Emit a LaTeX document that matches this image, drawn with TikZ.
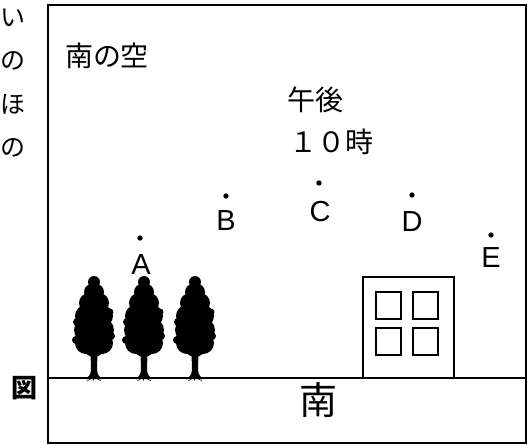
\documentclass[tikz,border=0pt]{standalone}
\usepackage{fontspec}
\setsansfont{Liberation Sans}
\newfontfamily\jpfont{Noto Sans CJK JP}
\usepackage{tikz}
\usetikzlibrary{positioning}

\tikzset{
    skydot/.style = {circle, fill = black, inner sep = 0pt, minimum size = 5.4pt},
    skyname/.style = {font = \sffamily\fontsize{29}{31}\selectfont, inner sep = 0pt},
    jptext/.style = {font = \jpfont\fontsize{28}{30}\selectfont, inner sep = 0pt},
    frameline/.style = {line width = 2pt},
    houseline/.style = {line width = 1.4pt}
}

% one conifer, base of the trunk at (#1, 378)
\newcommand{\drawtree}[1]{%
    \begin{scope}[shift = {(#1, 378)}]
        \fill (0, -96) circle (6pt)
              (-2, -86) circle (8pt) (2, -86) circle (8pt)
              (-5, -75) circle (10pt) (5, -75) circle (10pt)
              (-8, -62) circle (11pt) (8, -62) circle (11pt)
              (-8, -48) circle (12pt) (8, -48) circle (12pt)
              (-8, -35) circle (11pt) (8, -35) circle (11pt)
              (0, -32) circle (11pt)
              (-17, -56) circle (4pt) (17, -42) circle (4pt)
              (-18, -38) circle (4pt) (16, -66) circle (3.5pt);
        \fill (-3.5, -26) -- (3.5, -26) -- (3, -8)
              .. controls (3.5, -3) and (5, -1) .. (9, 1) -- (-9, 1)
              .. controls (-5, -1) and (-3.5, -3) .. (-3, -8) -- cycle;
        \draw[line width = 0.5pt] (-2, 0) -- (-7, 3) (0, 0) -- (-1, 3) (2, 0) -- (7, 3);
    \end{scope}%
}

\begin{document}
\begin{tikzpicture}[x = 1pt, y = -1pt]
    \useasboundingbox (0, 0) rectangle (531, 445);

    % cut-off column of text at the left
    \foreach \ch/\y [count = \i] in {い/18, の/61, ほ/104, の/148}
        \node[jptext, font = \jpfont\fontsize{25}{27}\selectfont] (edge\i) at (13, \y) {\ch};
    \node[jptext, font = \jpfont\bfseries\fontsize{26}{28}\selectfont] (zu) at (24, 388) {図};

    % frame and ground
    \draw[frameline] (48, 5) rectangle (526, 443);
    \draw[frameline] (48, 378) -- (526, 378);

    \node[jptext] (sky) at (107, 56) {南の空};
    \node[jptext] (pm) at (315, 100) {午後};
    \node[jptext] (hour) at (331, 142) {１０時};
    \node[jptext, font = \jpfont\fontsize{38}{40}\selectfont] (south) at (318, 400) {南};

    % star positions
    \node[skydot] (a) at (140, 238) {};
    \node[skydot] (b) at (226, 196) {};
    \node[skydot] (c) at (319, 183) {};
    \node[skydot] (d) at (412, 195) {};
    \node[skydot] (e) at (491, 235) {};
    \node[skyname] (la) at (141, 265) {A};
    \node[skyname] (lb) at (226, 221) {B};
    \node[skyname] (lc) at (320, 212) {C};
    \node[skyname] (ld) at (412, 222) {D};
    \node[skyname] (le) at (491, 258) {E};

    % trees
    \foreach \x in {94, 144, 195}
        \drawtree{\x};

    % building
    \draw[houseline] (363, 277) rectangle (454, 378);
    \foreach \x in {376, 413}
        \foreach \y in {292, 328}
            \draw[houseline] (\x, \y) rectangle ++(25, 27);
\end{tikzpicture}
\end{document}
